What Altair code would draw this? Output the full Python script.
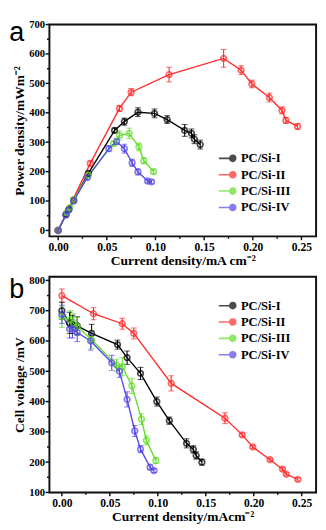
import altair as alt
import pandas as pd

series = ["PC/Si-I", "PC/Si-II", "PC/Si-III", "PC/Si-IV"]
colors = ["#000000", "#ff2b2b", "#62de2a", "#5647e8"]

# PC/Si-I
x1 = [0, 0.008, 0.011, 0.016, 0.031, 0.058, 0.068, 0.082, 0.099, 0.112, 0.130, 0.137, 0.140, 0.146]
p1 = [0, 55, 72, 104, 194, 340, 370, 402, 398, 377, 340, 330, 310, 292]
pe1 = [3, 6, 6, 6, 8, 8, 12, 15, 15, 13, 20, 15, 15, 15]
v1 = [700, 660, 655, 650, 625, 588, 545, 493, 400, 337, 262, 242, 222, 200]
ve1 = [28, 35, 30, 30, 30, 15, 22, 20, 15, 12, 15, 12, 12, 10]
# PC/Si-II
x2 = [0, 0.033, 0.063, 0.075, 0.114, 0.170, 0.188, 0.199, 0.217, 0.230, 0.234, 0.246]
p2 = [0, 228, 415, 470, 530, 585, 545, 498, 452, 408, 374, 354]
pe2 = [3, 8, 10, 12, 25, 30, 15, 13, 15, 12, 10, 10]
v2 = [750, 690, 657, 625, 460, 345, 290, 250, 208, 177, 160, 143]
ve2 = [22, 20, 18, 18, 25, 18, 6, 5, 5, 5, 5, 5]
# PC/Si-III
x3 = [0, 0.009, 0.012, 0.016, 0.031, 0.057, 0.063, 0.073, 0.083, 0.088, 0.098]
p3 = [0, 60, 78, 105, 188, 295, 323, 330, 284, 237, 200]
pe3 = [3, 6, 6, 6, 8, 8, 15, 18, 13, 10, 8]
v3 = [680, 670, 660, 648, 605, 520, 515, 452, 342, 272, 205]
ve3 = [35, 30, 30, 30, 30, 20, 30, 25, 18, 15, 10]
# PC/Si-IV
x4 = [0, 0.008, 0.011, 0.016, 0.030, 0.052, 0.060, 0.068, 0.076, 0.082, 0.092, 0.096]
p4 = [0, 52, 70, 100, 180, 278, 302, 278, 230, 199, 168, 165]
pe4 = [3, 6, 6, 6, 8, 10, 10, 15, 12, 10, 6, 6]
v4 = [688, 640, 640, 628, 600, 528, 500, 407, 303, 243, 183, 172]
ve4 = [30, 30, 30, 30, 30, 25, 20, 25, 18, 12, 8, 6]

x_major = [0, 0.05, 0.1, 0.15, 0.2, 0.25]
x_minor = [0.025, 0.075, 0.125, 0.175, 0.225]
ya_major = [0, 100, 200, 300, 400, 500, 600, 700]
ya_minor = [50, 150, 250, 350, 450, 550, 650]
yb_major = [100, 200, 300, 400, 500, 600, 700, 800]
yb_minor = [150, 250, 350, 450, 550, 650, 750]

rows = []
for name, xs, ps, pes, vs, ves in [
    (series[0], x1, p1, pe1, v1, ve1),
    (series[1], x2, p2, pe2, v2, ve2),
    (series[2], x3, p3, pe3, v3, ve3),
    (series[3], x4, p4, pe4, v4, ve4),
]:
    for i in range(len(xs)):
        rows.append({"series": name, "x": xs[i],
                     "P": ps[i], "Plo": ps[i] - pes[i], "Phi": ps[i] + pes[i],
                     "V": vs[i], "Vlo": vs[i] - ves[i], "Vhi": vs[i] + ves[i]})
df = pd.DataFrame(rows)

SERIF = "Liberation Serif"
legend_path = "M-1,0H0.25M0.95,0A0.35,0.35,0,1,1,0.25,0A0.35,0.35,0,1,1,0.95,0"
W = 277


def panel(ycol, lo, hi, ydomain, ymaj, ymin, ytitle, xdomain, xtitle, legend_y, label, label_y, h):
    color_scale = alt.Scale(domain=series, range=colors)
    legend = alt.Legend(
        orient="none", legendX=175, legendY=legend_y, title=None,
        symbolType=legend_path, symbolSize=324, symbolStrokeWidth=1.6, symbolFillColor="white",
        labelFont=SERIF, labelFontSize=13, labelFontWeight="bold", labelColor="black",
        rowPadding=-1, labelOffset=4,
    )
    color = alt.Color("series:N", scale=color_scale, legend=legend)
    xs = alt.Scale(domain=xdomain, nice=False, zero=False)
    ys = alt.Scale(domain=ydomain, nice=False, zero=False)
    xaxis = alt.Axis(
        values=x_major, format=".2f", title=xtitle, grid=False, domain=False, ticks=False,
        labelOverlap=False, labelFont=SERIF, labelFontWeight="bold", labelFontSize=12, labelColor="black",
        titleFont=SERIF, titleFontWeight="bold", titleFontSize=14, titleColor="black",
        labelPadding=6, titlePadding=1,
    )
    yaxis = alt.Axis(
        values=ymaj, format="d", title=ytitle, grid=False, domain=False, ticks=False,
        labelOverlap=False, labelFont=SERIF, labelFontWeight="bold", labelFontSize=11, labelColor="black",
        titleFont=SERIF, titleFontWeight="bold", titleFontSize=14, titleColor="black",
        labelPadding=5, titlePadding=2,
    )
    base = alt.Chart(df)
    X = alt.X("x:Q", scale=xs, axis=xaxis)
    lines = base.mark_line(strokeWidth=1.4).encode(
        x=X, y=alt.Y(f"{ycol}:Q", scale=ys, axis=yaxis), color=color
    )
    errs = base.mark_rule(strokeWidth=1.1).encode(
        x=X, y=alt.Y(f"{lo}:Q", scale=ys, axis=yaxis), y2=f"{hi}:Q", color=color
    )
    cap_lo = base.mark_tick(orient="horizontal", size=6).encode(
        x=X, y=alt.Y(f"{lo}:Q", scale=ys, axis=yaxis), color=color
    )
    cap_hi = base.mark_tick(orient="horizontal", size=6).encode(
        x=X, y=alt.Y(f"{hi}:Q", scale=ys, axis=yaxis), color=color
    )
    pts = base.mark_point(filled=False, size=34, strokeWidth=1.8).encode(
        x=X, y=alt.Y(f"{ycol}:Q", scale=ys, axis=yaxis), color=color,
    )
    frame = alt.Chart(pd.DataFrame({"t": [0]})).mark_rect(
        fill="transparent", stroke="#111111", strokeWidth=2
    ).encode(x=alt.value(0), x2=alt.value(W), y=alt.value(0), y2=alt.value(h))
    xt_major = alt.Chart(pd.DataFrame({"v": x_major})).mark_rule(color="#111111", strokeWidth=1.5).encode(
        x=alt.X("v:Q", scale=xs, axis=xaxis), y=alt.value(h), y2=alt.value(h + 4))
    xt_minor = alt.Chart(pd.DataFrame({"v": x_minor})).mark_rule(color="#111111", strokeWidth=1.5).encode(
        x=alt.X("v:Q", scale=xs, axis=xaxis), y=alt.value(h), y2=alt.value(h + 2.5))
    yt_major = alt.Chart(pd.DataFrame({"v": ymaj})).mark_rule(color="#111111", strokeWidth=1.5).encode(
        y=alt.Y("v:Q", scale=ys, axis=yaxis), x=alt.value(-4), x2=alt.value(0))
    yt_minor = alt.Chart(pd.DataFrame({"v": ymin})).mark_rule(color="#111111", strokeWidth=1.5).encode(
        y=alt.Y("v:Q", scale=ys, axis=yaxis), x=alt.value(-2.5), x2=alt.value(0))
    lab = alt.Chart(pd.DataFrame({"t": [label]})).mark_text(
        font="Liberation Sans", fontSize=28, align="center", baseline="alphabetic", color="black"
    ).encode(x=alt.value(-34), y=alt.value(label_y), text="t:N")
    return alt.layer(errs, cap_lo, cap_hi, lines, pts, frame, xt_major, xt_minor, yt_major, yt_minor, lab).properties(
        width=W, height=h
    )


pa = panel("P", "Plo", "Phi", [-20, 700], ya_major, ya_minor, "Power density/mWm\u207b\u00b2",
           [-0.009, 0.265], "Current density/mA cm\u207b\u00b2", 129, "a", 17, 220)
pb = panel("V", "Vlo", "Vhi", [100, 812], yb_major, yb_minor, "Cell voltage /mV",
           [-0.013, 0.265], "Current density/mAcm\u207b\u00b2", 20, "b", 22, 224)

chart = alt.vconcat(pa, pb, spacing=6).resolve_scale(
    color="independent", x="independent", y="independent"
).resolve_legend(color="independent").properties(
    padding={"left": 0, "top": 0, "right": 0, "bottom": 0}, background="white"
)

chart.save("out.html", embed_options={"renderer": "svg", "actions": False})
